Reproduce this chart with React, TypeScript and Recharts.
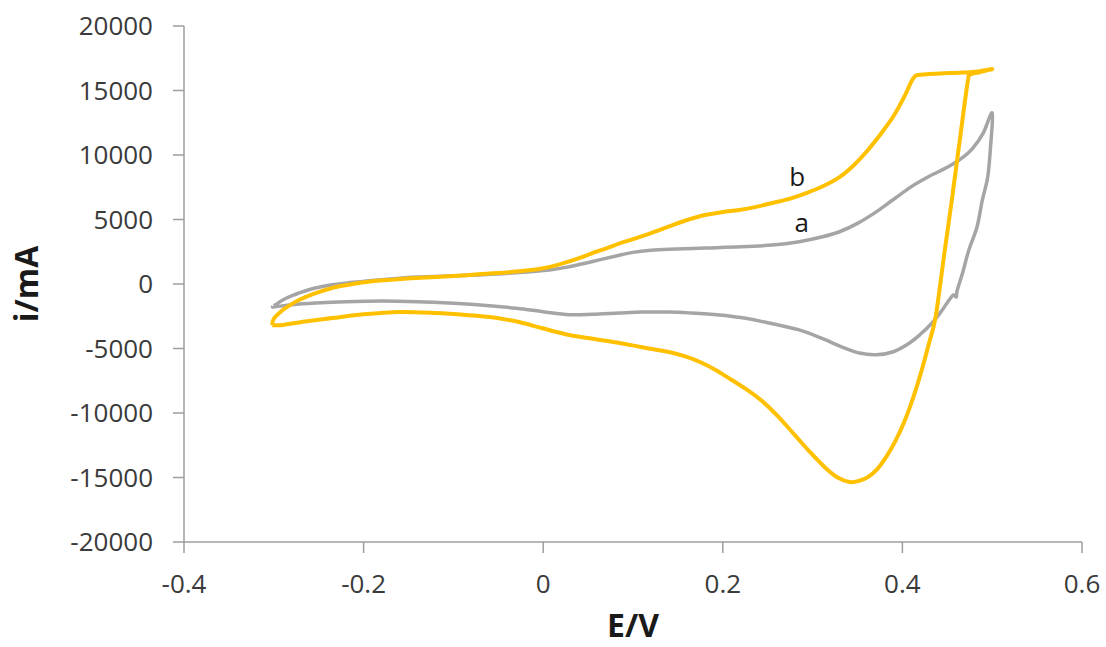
import React from 'react'
import { LineChart, Line, XAxis, YAxis, ReferenceDot } from 'recharts'

// curve a (grey): anodic sweep from -0.3 V then back
const curveA = [
  { E: -0.300, i: -1700 }, { E: -0.290, i: -1240 }, { E: -0.281, i: -950 }, { E: -0.272, i: -700 },
  { E: -0.255, i: -330 }, { E: -0.235, i: -60 }, { E: -0.215, i: 110 }, { E: -0.197, i: 230 },
  { E: -0.170, i: 390 }, { E: -0.141, i: 540 }, { E: -0.100, i: 640 }, { E: -0.068, i: 720 },
  { E: -0.030, i: 870 }, { E: 0.007, i: 1085 }, { E: 0.030, i: 1350 }, { E: 0.055, i: 1750 },
  { E: 0.080, i: 2150 }, { E: 0.100, i: 2450 }, { E: 0.120, i: 2620 }, { E: 0.140, i: 2700 },
  { E: 0.180, i: 2790 }, { E: 0.220, i: 2880 }, { E: 0.255, i: 3020 }, { E: 0.285, i: 3280 },
  { E: 0.310, i: 3640 }, { E: 0.330, i: 4050 }, { E: 0.350, i: 4700 }, { E: 0.370, i: 5550 },
  { E: 0.390, i: 6550 }, { E: 0.410, i: 7550 }, { E: 0.430, i: 8350 }, { E: 0.450, i: 9050 },
  { E: 0.465, i: 9700 }, { E: 0.478, i: 10500 }, { E: 0.490, i: 11700 }, { E: 0.500, i: 13250 },
  { E: 0.498, i: 10500 }, { E: 0.495, i: 8300 }, { E: 0.489, i: 6500 }, { E: 0.483, i: 4400 },
  { E: 0.474, i: 2640 }, { E: 0.467, i: 850 }, { E: 0.461, i: -500 }, { E: 0.460, i: -1000 },
  { E: 0.457, i: -850 }, { E: 0.452, i: -1240 }, { E: 0.443, i: -2150 }, { E: 0.433, i: -3020 },
  { E: 0.420, i: -3900 }, { E: 0.408, i: -4570 }, { E: 0.390, i: -5250 }, { E: 0.371, i: -5480 },
  { E: 0.352, i: -5350 }, { E: 0.335, i: -4950 }, { E: 0.310, i: -4200 }, { E: 0.285, i: -3560 },
  { E: 0.250, i: -3000 }, { E: 0.220, i: -2600 }, { E: 0.196, i: -2400 }, { E: 0.165, i: -2250 },
  { E: 0.140, i: -2170 }, { E: 0.110, i: -2180 }, { E: 0.085, i: -2250 }, { E: 0.055, i: -2350 },
  { E: 0.029, i: -2380 }, { E: 0.000, i: -2150 }, { E: -0.030, i: -1880 }, { E: -0.070, i: -1620 },
  { E: -0.105, i: -1470 }, { E: -0.140, i: -1370 }, { E: -0.179, i: -1320 }, { E: -0.220, i: -1370 },
  { E: -0.253, i: -1470 }, { E: -0.280, i: -1600 }, { E: -0.300, i: -1780 }, { E: -0.300, i: -1700 },
]

// curve b (yellow)
const curveB = [
  { E: -0.302, i: -3200 }, { E: -0.300, i: -2700 }, { E: -0.290, i: -2020 }, { E: -0.281, i: -1600 },
  { E: -0.272, i: -1240 }, { E: -0.255, i: -750 }, { E: -0.235, i: -310 }, { E: -0.215, i: -40 },
  { E: -0.197, i: 155 }, { E: -0.170, i: 320 }, { E: -0.141, i: 465 }, { E: -0.100, i: 620 },
  { E: -0.068, i: 775 }, { E: -0.030, i: 960 }, { E: 0.000, i: 1220 }, { E: 0.020, i: 1560 },
  { E: 0.040, i: 2000 }, { E: 0.060, i: 2520 }, { E: 0.080, i: 3020 }, { E: 0.100, i: 3480 },
  { E: 0.120, i: 3950 }, { E: 0.144, i: 4570 }, { E: 0.162, i: 5000 }, { E: 0.180, i: 5350 },
  { E: 0.200, i: 5580 }, { E: 0.218, i: 5740 }, { E: 0.237, i: 5980 }, { E: 0.255, i: 6280 },
  { E: 0.275, i: 6620 }, { E: 0.293, i: 7050 }, { E: 0.312, i: 7600 }, { E: 0.330, i: 8290 },
  { E: 0.345, i: 9150 }, { E: 0.360, i: 10250 }, { E: 0.375, i: 11550 }, { E: 0.390, i: 13000 },
  { E: 0.402, i: 14500 }, { E: 0.410, i: 15700 }, { E: 0.414, i: 16100 }, { E: 0.420, i: 16220 },
  { E: 0.452, i: 16350 }, { E: 0.478, i: 16430 }, { E: 0.500, i: 16660 },
  { E: 0.485, i: 16400 }, { E: 0.476, i: 16250 }, { E: 0.473, i: 15800 }, { E: 0.464, i: 11200 },
  { E: 0.455, i: 6500 }, { E: 0.446, i: 2000 }, { E: 0.437, i: -2560 }, { E: 0.430, i: -4500 },
  { E: 0.421, i: -6800 }, { E: 0.412, i: -8800 }, { E: 0.402, i: -10700 }, { E: 0.392, i: -12200 },
  { E: 0.382, i: -13400 }, { E: 0.372, i: -14350 }, { E: 0.362, i: -14950 }, { E: 0.352, i: -15250 },
  { E: 0.341, i: -15350 }, { E: 0.328, i: -15000 }, { E: 0.315, i: -14300 }, { E: 0.298, i: -13100 },
  { E: 0.280, i: -11700 }, { E: 0.262, i: -10300 }, { E: 0.245, i: -9150 }, { E: 0.228, i: -8250 },
  { E: 0.210, i: -7440 }, { E: 0.193, i: -6700 }, { E: 0.177, i: -6120 }, { E: 0.160, i: -5650 },
  { E: 0.140, i: -5270 }, { E: 0.110, i: -4900 }, { E: 0.085, i: -4570 }, { E: 0.055, i: -4250 },
  { E: 0.029, i: -3950 }, { E: 0.000, i: -3450 }, { E: -0.027, i: -2950 }, { E: -0.055, i: -2600 },
  { E: -0.086, i: -2400 }, { E: -0.120, i: -2250 }, { E: -0.160, i: -2170 }, { E: -0.200, i: -2350 },
  { E: -0.235, i: -2640 }, { E: -0.265, i: -2900 }, { E: -0.290, i: -3180 }, { E: -0.302, i: -3200 },
]

const xTicks = [-0.4, -0.2, 0, 0.2, 0.4, 0.6]
const yTicks = [-20000, -15000, -10000, -5000, 0, 5000, 10000, 15000, 20000]

const curveLabels = [
  { name: 'a', E: 0.288, i: 4730 },
  { name: 'b', E: 0.283, i: 8290 },
]

const axisColor = '#9e9e9e'
const tickStyle = { fill: '#3a3a3a', fontSize: 26, fontFamily: 'Open Sans' }

// catmull-rom through the points, in point order (the loops go back on themselves)
const smoothLoop = (ctx: any) => {
  let pts: number[][] = []
  return {
    areaStart() {},
    areaEnd() {},
    lineStart() { pts = [] },
    point(x: number, y: number) { pts.push([+x, +y]) },
    lineEnd() {
      if (!pts.length) return
      ctx.moveTo(pts[0][0], pts[0][1])
      for (let k = 0; k < pts.length - 1; k++) {
        const p0 = pts[Math.max(k - 1, 0)]
        const p1 = pts[k]
        const p2 = pts[k + 1]
        const p3 = pts[Math.min(k + 2, pts.length - 1)]
        ctx.bezierCurveTo(
          p1[0] + (p2[0] - p0[0]) / 6, p1[1] + (p2[1] - p0[1]) / 6,
          p2[0] - (p3[0] - p1[0]) / 6, p2[1] - (p3[1] - p1[1]) / 6,
          p2[0], p2[1])
      }
    },
  }
}

const YTitle = ({ viewBox }: any) => {
  const cy = viewBox.y + viewBox.height / 2
  return (
    <text x={25} y={cy} transform={`rotate(-90 25 ${cy})`} textAnchor="middle" dominantBaseline="central"
      fontFamily="Open Sans" fontWeight="bold" fontSize={32} fill="#1a1a1a">
      i/mA
    </text>
  )
}

export default function App() {
  return (
    <div style={{ position: 'absolute', left: 0, top: 0, background: '#fff' }}>
      <LineChart width={1106} height={647} margin={{ top: 26, right: 24, bottom: 0, left: 0 }}>
        <XAxis type="number" dataKey="E" domain={[-0.4, 0.6]} ticks={xTicks} allowDataOverflow
          tick={tickStyle} tickSize={11} tickMargin={22} height={105}
          axisLine={{ stroke: axisColor, strokeWidth: 1.5 }} tickLine={{ stroke: axisColor, strokeWidth: 1.5 }}
          label={{ value: 'E/V', position: 'insideBottom', offset: 10, fontFamily: 'Open Sans', fontWeight: 'bold', fontSize: 32, fill: '#1a1a1a' }} />
        <YAxis type="number" domain={[-20000, 20000]} ticks={yTicks} allowDataOverflow
          tick={tickStyle} tickSize={11} tickMargin={20} width={184}
          axisLine={{ stroke: axisColor, strokeWidth: 1.5 }} tickLine={{ stroke: axisColor, strokeWidth: 1.5 }}
          label={{ content: YTitle }} />
        <Line data={curveA} dataKey="i" type={smoothLoop as any} stroke="#a5a5a5" strokeWidth={3.5} dot={false}
          isAnimationActive={false} strokeLinejoin="round" />
        <Line data={curveB} dataKey="i" type={smoothLoop as any} stroke="#ffc000" strokeWidth={4} dot={false}
          isAnimationActive={false} strokeLinejoin="round" />
        {curveLabels.map((l) => (
          <ReferenceDot key={l.name} x={l.E} y={l.i} r={0} stroke="none" fill="none"
            label={{ value: l.name, position: 'center', fontSize: 26, fontFamily: 'Open Sans', fill: '#1a1a1a' }} />
        ))}
      </LineChart>
    </div>
  )
}
